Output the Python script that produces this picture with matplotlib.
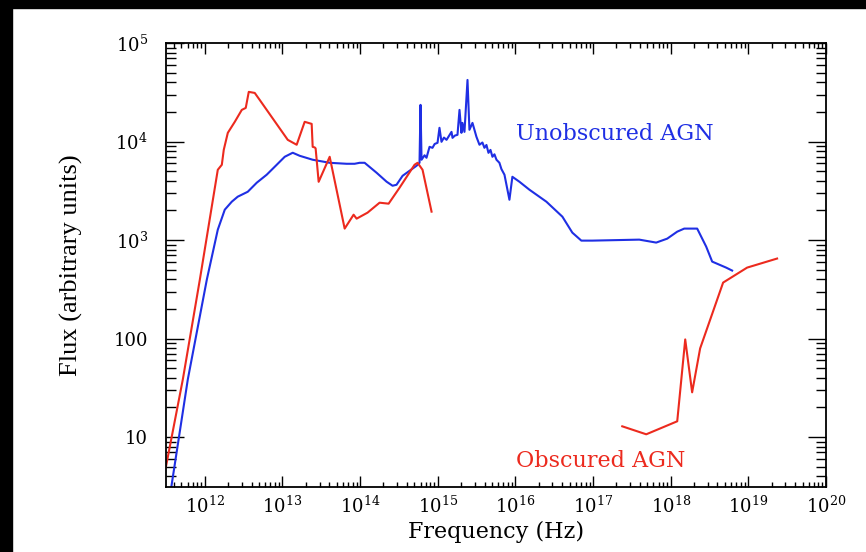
import matplotlib
matplotlib.use("Agg")
import matplotlib.pyplot as plt
from matplotlib.patches import Rectangle
from matplotlib.ticker import LogLocator, NullFormatter
import numpy as np

# log10 values
unobs_lognu = [11.56, 11.781, 12.026, 12.167, 12.257, 12.347, 12.424, 12.553, 12.669, 12.797,
               12.926, 13.029, 13.132, 13.222, 13.389, 13.608, 13.826, 13.929, 13.994, 14.058,
               14.212, 14.341, 14.418, 14.469, 14.547, 14.637, 14.727, 14.765, 14.778, 14.791,
               14.830, 14.855, 14.894, 14.932, 14.960, 14.997, 15.022, 15.048, 15.080, 15.113,
               15.177, 15.190, 15.220, 15.254, 15.280, 15.305, 15.318, 15.344, 15.383, 15.408,
               15.447, 15.498, 15.537, 15.575, 15.601, 15.627, 15.653, 15.679, 15.704, 15.730,
               15.756, 15.794, 15.820, 15.859, 15.923, 15.961, 16.051, 16.180, 16.399,
               16.605, 16.733, 16.849, 16.990, 17.595, 17.813, 17.955, 18.084, 18.174, 18.341,
               18.457, 18.534, 18.714, 18.791]
unobs_logf = [0.45, 1.586, 2.599, 3.105, 3.308, 3.389, 3.440, 3.490, 3.582, 3.663,
              3.764, 3.845, 3.886, 3.855, 3.815, 3.784, 3.774, 3.774, 3.784, 3.784,
              3.683, 3.592, 3.551, 3.561, 3.652, 3.703, 3.754, 3.784, 4.372, 3.815,
              3.860, 3.835, 3.946, 3.936, 3.975, 3.987, 4.139, 3.997, 4.040, 4.017,
              4.098, 4.037, 4.060, 4.068, 4.321, 4.088, 4.189, 4.098, 4.625, 4.119,
              4.189, 4.048, 3.967, 3.990, 3.936, 3.965, 3.885, 3.915, 3.845, 3.870,
              3.815, 3.784, 3.720, 3.663, 3.409, 3.642, 3.592, 3.511, 3.389,
              3.237, 3.075, 2.994, 2.994, 3.004, 2.974, 3.014, 3.085, 3.116, 3.116,
              2.933, 2.781, 2.720, 2.690]

obs_ir_lognu = [11.498, 11.717, 11.936, 12.167, 12.219, 12.244, 12.296, 12.386, 12.476, 12.527,
                12.566, 12.643, 12.707, 13.068, 13.183, 13.286, 13.376, 13.389, 13.415, 13.427,
                13.466, 13.608, 13.801, 13.916, 13.955, 14.096, 14.251, 14.367, 14.508, 14.701,
                14.740, 14.804, 14.920]
obs_ir_logf = [0.694, 1.586, 2.599, 3.713, 3.764, 3.916, 4.088, 4.200, 4.321, 4.341,
               4.504, 4.493, 4.422, 4.017, 3.967, 4.200, 4.179, 3.946, 3.94, 3.93,
               3.591, 3.845, 3.116, 3.257, 3.217, 3.278, 3.379, 3.369, 3.531, 3.764,
               3.784, 3.713, 3.288]

obs_x_lognu = [17.376, 17.685, 18.084, 18.187, 18.276, 18.379, 18.675, 18.984, 19.370]
obs_x_logf = [1.109, 1.028, 1.160, 1.991, 1.454, 1.900, 2.568, 2.720, 2.812]

xtick_vals = [1e12, 1e13, 1e14, 1e15, 1e16, 1e17, 1e18, 1e19, 1e20]
xtick_labels = [r"$10^{%d}$" % i for i in range(12, 21)]
ytick_vals = [10, 100, 1e3, 1e4, 1e5]
ytick_labels = ["10", "100", r"$10^{3}$", r"$10^{4}$", r"$10^{5}$"]

blue = "#1f2fe4"
red = "#ec2a1e"

plt.rcParams["mathtext.fontset"] = "dejavuserif"
plt.rcParams["font.family"] = "DejaVu Serif"

fig = plt.figure(figsize=(8.66, 5.52), dpi=100)
ax = fig.add_axes([166 / 866, 1 - 487 / 552, 660 / 866, 444 / 552])

ax.plot(10 ** np.array(unobs_lognu), 10 ** np.array(unobs_logf), color=blue, lw=1.5)
ax.plot(10 ** np.array(obs_ir_lognu), 10 ** np.array(obs_ir_logf), color=red, lw=1.5)
ax.plot(10 ** np.array(obs_x_lognu), 10 ** np.array(obs_x_logf), color=red, lw=1.5)

ax.set_xscale("log")
ax.set_yscale("log")
ax.set_xlim(10 ** 11.5, 1e20)
ax.set_ylim(10 ** 0.493, 1e5)

ax.set_xticks(xtick_vals)
ax.set_xticklabels(xtick_labels)
ax.set_yticks(ytick_vals)
ax.set_yticklabels(ytick_labels)
ax.xaxis.set_minor_locator(LogLocator(base=10, subs=np.arange(2, 10), numticks=100))
ax.yaxis.set_minor_locator(LogLocator(base=10, subs=np.arange(2, 10), numticks=100))
ax.xaxis.set_minor_formatter(NullFormatter())
ax.yaxis.set_minor_formatter(NullFormatter())

ax.tick_params(which="both", direction="in", top=True, right=True, width=1.0, color="black")
ax.tick_params(axis="x", which="major", length=8, labelsize=13, pad=6)
ax.tick_params(axis="x", which="minor", length=3.6)
ax.tick_params(axis="y", which="major", length=13, labelsize=13, pad=13)
ax.tick_params(axis="y", which="minor", length=7)
for s in ax.spines.values():
    s.set_linewidth(1.3)

ax.set_xlabel("Frequency (Hz)", fontsize=16, labelpad=3)
ax.set_ylabel("Flux (arbitrary units)", fontsize=19, family="Liberation Serif", labelpad=22)

ax.text(1.03e16, 1.2e4, "Unobscured AGN", color=blue, fontsize=16, ha="left", va="center")
ax.text(1.03e16, 5.7, "Obscured AGN", color=red, fontsize=16, ha="left", va="center")

# black borders of the scanned picture
fig.patches.append(Rectangle((0, 0), 12 / 866, 1, transform=fig.transFigure,
                             color="black", zorder=-1))
fig.patches.append(Rectangle((0, 1 - 7.5 / 552), 1, 7.5 / 552, transform=fig.transFigure,
                             color="black", zorder=-1))

fig.savefig("out.png", dpi=100)
